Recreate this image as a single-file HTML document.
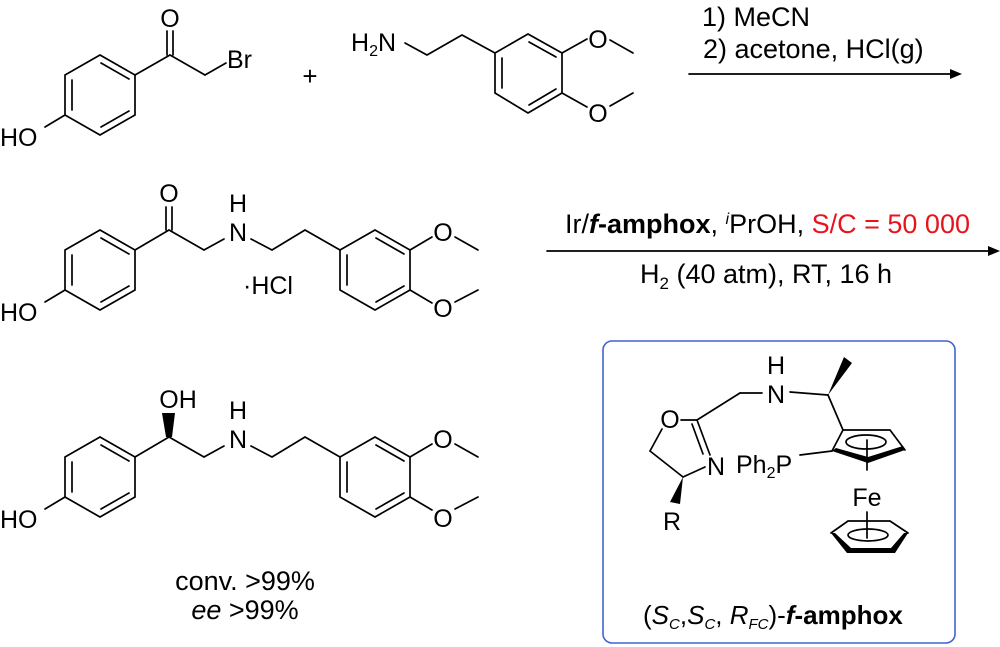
<!DOCTYPE html>
<html><head><meta charset="utf-8"><style>
html,body{margin:0;padding:0;background:#fff}
svg{display:block}
text{font-family:"Liberation Sans",Arial,sans-serif;fill:#000}
</style></head><body>
<svg width="1000" height="647" viewBox="0 0 1000 647" xmlns="http://www.w3.org/2000/svg">
<g stroke="#000" stroke-width="1.7" fill="none" stroke-linecap="round">
<!-- Molecule 1 -->
<polygon points="100,55 135,75 135,115 100,135 65,115 65,75"/>
<line x1="72" y1="80" x2="72" y2="110"/>
<line x1="101" y1="63" x2="129" y2="79"/>
<line x1="129" y1="111" x2="101" y2="127"/>
<line x1="65" y1="115" x2="45" y2="127"/>
<line x1="135" y1="75" x2="170" y2="55"/>
<line x1="167" y1="55" x2="167" y2="31"/><line x1="173" y1="55" x2="173" y2="31"/>
<line x1="170" y1="55" x2="205" y2="75"/>
<line x1="205" y1="75" x2="226" y2="63"/>
<!-- amine -->
<polyline points="405,43 427,55 462,35 495,53"/>
<polygon points="495,53 528,34 562,53 562,93 528,113 495,93"/>
<line x1="502" y1="58" x2="502" y2="88"/>
<line x1="529" y1="42" x2="556" y2="57"/>
<line x1="556" y1="89" x2="529" y2="105"/>
<line x1="562" y1="53" x2="587" y2="39"/>
<line x1="610" y1="40" x2="633" y2="53"/>
<line x1="562" y1="93" x2="587" y2="107"/>
<line x1="610" y1="106" x2="633" y2="93"/>
<!-- arrow 1 -->
<line x1="689" y1="74" x2="950" y2="74"/>
<!-- Molecule 2 -->
<polygon points="100,230 135,250 135,290 100,310 65,290 65,250"/>
<line x1="72" y1="255" x2="72" y2="285"/>
<line x1="101" y1="238" x2="129" y2="254"/>
<line x1="129" y1="286" x2="101" y2="302"/>
<line x1="65" y1="290" x2="45" y2="302"/>
<line x1="135" y1="250" x2="169" y2="230"/>
<line x1="166" y1="230" x2="166" y2="207"/><line x1="172" y1="230" x2="172" y2="207"/>
<line x1="169" y1="230" x2="204" y2="250"/>
<line x1="204" y1="250" x2="224" y2="239"/>
<polyline points="251,239 272,250 305,230 340,250"/>
<polygon points="340,250 375,230 410,250 410,290 375,310 340,290"/>
<line x1="347" y1="255" x2="347" y2="285"/>
<line x1="376" y1="238" x2="404" y2="254"/>
<line x1="404" y1="286" x2="376" y2="302"/>
<line x1="410" y1="250" x2="432" y2="237"/>
<line x1="455" y1="237" x2="478" y2="250"/>
<line x1="410" y1="290" x2="432" y2="303"/>
<line x1="455" y1="302" x2="478" y2="290"/>
<!-- arrow 2 -->
<line x1="547" y1="251" x2="990" y2="251"/>
<!-- Molecule 3 -->
<polygon points="100,437 135,457 135,497 100,517 65,497 65,457"/>
<line x1="72" y1="462" x2="72" y2="492"/>
<line x1="101" y1="445" x2="129" y2="461"/>
<line x1="129" y1="493" x2="101" y2="509"/>
<line x1="65" y1="497" x2="45" y2="509"/>
<line x1="135" y1="457" x2="169" y2="437"/>
<line x1="169" y1="437" x2="204" y2="457"/>
<line x1="204" y1="457" x2="224" y2="446"/>
<polyline points="251,446 272,457 305,437 340,457"/>
<polygon points="340,457 375,437 410,457 410,497 375,517 340,497"/>
<line x1="347" y1="462" x2="347" y2="492"/>
<line x1="376" y1="445" x2="404" y2="461"/>
<line x1="404" y1="493" x2="376" y2="509"/>
<line x1="410" y1="457" x2="432" y2="444"/>
<line x1="455" y1="444" x2="478" y2="457"/>
<line x1="410" y1="497" x2="432" y2="510"/>
<line x1="455" y1="509" x2="478" y2="497"/>
<!-- box -->
<rect x="603" y="341" width="352" height="302" rx="9" stroke="#3f63d4" stroke-width="1.6"/>
<!-- ligand -->
<line x1="662" y1="429" x2="650" y2="451"/>
<line x1="650" y1="451" x2="683" y2="477"/>
<line x1="683" y1="477" x2="705" y2="467"/>
<line x1="681" y1="420" x2="697" y2="420"/>
<line x1="697" y1="420" x2="710" y2="455"/>
<line x1="692" y1="424" x2="703" y2="454"/>
<line x1="697" y1="420" x2="740" y2="393"/>
<line x1="740" y1="393" x2="762" y2="393"/>
<line x1="790" y1="392" x2="828" y2="395"/>
<line x1="828" y1="395" x2="843" y2="430"/>
<line x1="800" y1="455" x2="832" y2="451"/>
<polyline points="832,451 843,430 890,430 905,450"/>
<ellipse cx="866" cy="442" rx="20" ry="7"/>
<line x1="867" y1="440" x2="867" y2="470"/>
<line x1="867" y1="512" x2="867" y2="538"/>
<polyline points="831,533 848,521 890,521 908,533"/>
<ellipse cx="868" cy="535" rx="20" ry="6"/>
</g>
<g fill="#000" stroke="none">
<polygon points="166,437 172,437 175,413 162,413"/>
<polygon points="828,395 844,357 852,363"/>
<polygon points="683,477 670,502 680,504"/>
<polygon points="832,451 868,463 905,450 903,446 868,457 836,448"/>
<polygon points="831,533 847,553 895,553 908,533 904,533 891,548 851,548 835,533"/>
<polygon points="950,69 962,74 950,79"/>
<polygon points="988,246 1000,251 988,256"/>
</g>
<g font-size="25">
<text x="170" y="19" text-anchor="middle" dominant-baseline="central">O</text>
<text x="227" y="68">Br</text>
<text x="0" y="146">HO</text>
<text x="310" y="85" text-anchor="middle" font-size="26">+</text>
<text x="351" y="51">H<tspan font-size="16" dy="5">2</tspan><tspan dy="-5">N</tspan></text>
<text x="598" y="40" text-anchor="middle" dominant-baseline="central">O</text>
<text x="598" y="114" text-anchor="middle" dominant-baseline="central">O</text>
<text x="702" y="26" font-size="27">1) MeCN</text>
<text x="703" y="58" font-size="27">2) acetone, HCl(g)</text>

<text x="169" y="194" text-anchor="middle" dominant-baseline="central">O</text>
<text x="0" y="321">HO</text>
<text x="238" y="204" text-anchor="middle" dominant-baseline="central">H</text>
<text x="238" y="233" text-anchor="middle" dominant-baseline="central">N</text>
<text x="243" y="294">·HCl</text>
<text x="443" y="233" text-anchor="middle" dominant-baseline="central">O</text>
<text x="443" y="309" text-anchor="middle" dominant-baseline="central">O</text>

<text x="565" y="233" font-size="27">Ir/<tspan font-weight="bold" font-style="italic">f</tspan><tspan font-weight="bold">-amphox</tspan>, <tspan font-style="italic" font-size="16" dy="-9">i</tspan><tspan dy="9">PrOH, </tspan><tspan fill="#e8141c">S/C = 50 000</tspan></text>
<text x="640" y="283" font-size="27">H<tspan font-size="17" dy="6">2</tspan><tspan dy="-6"> (40 atm), RT, 16 h</tspan></text>

<text x="178" y="400" text-anchor="middle" dominant-baseline="central">OH</text>
<text x="0" y="528">HO</text>
<text x="238" y="411" text-anchor="middle" dominant-baseline="central">H</text>
<text x="238" y="440" text-anchor="middle" dominant-baseline="central">N</text>
<text x="443" y="440" text-anchor="middle" dominant-baseline="central">O</text>
<text x="443" y="519" text-anchor="middle" dominant-baseline="central">O</text>
<text x="245" y="590" text-anchor="middle" font-size="27">conv. &gt;99%</text>
<text x="245" y="619" text-anchor="middle" font-size="27"><tspan font-style="italic">ee</tspan> &gt;99%</text>

<text x="670" y="420" text-anchor="middle" dominant-baseline="central">O</text>
<text x="716" y="467" text-anchor="middle" dominant-baseline="central">N</text>
<text x="776" y="366" text-anchor="middle" dominant-baseline="central">H</text>
<text x="776" y="395" text-anchor="middle" dominant-baseline="central">N</text>
<text x="736" y="473">Ph<tspan font-size="16" dy="5">2</tspan><tspan dy="-5">P</tspan></text>
<text x="867" y="498" text-anchor="middle" dominant-baseline="central">Fe</text>
<text x="672" y="522" text-anchor="middle" dominant-baseline="central">R</text>
<text x="643" y="624" font-size="26">(<tspan font-style="italic">S</tspan><tspan font-size="15" dy="5" font-style="italic">C</tspan><tspan dy="-5">,</tspan><tspan font-style="italic">S</tspan><tspan font-size="15" dy="5" font-style="italic">C</tspan><tspan dy="-5">, </tspan><tspan font-style="italic">R</tspan><tspan font-size="15" dy="5" font-style="italic">FC</tspan><tspan dy="-5">)-</tspan><tspan font-weight="bold" font-style="italic">f</tspan><tspan font-weight="bold">-amphox</tspan></text>
</g>
</svg>
</body></html>
